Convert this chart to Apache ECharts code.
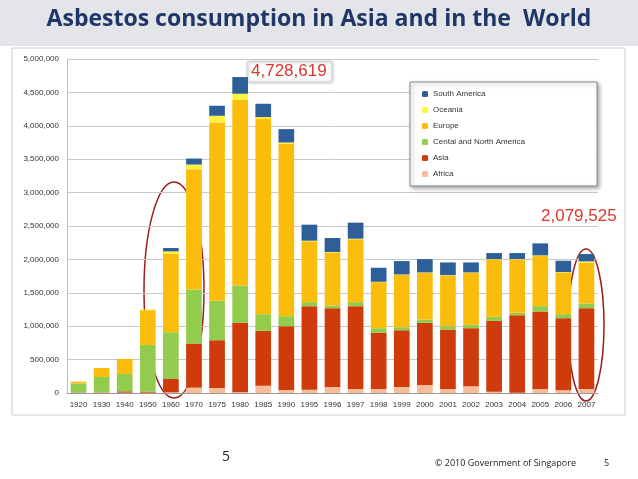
<!DOCTYPE html>
<html>
<head>
<meta charset="UTF-8">
<script src="https://cdn.jsdelivr.net/npm/echarts@6/dist/echarts.min.js"></script>
<style>
  * { margin: 0; padding: 0; }
  html, body { width: 638px; height: 479px; background: #fff; }
  #chart { width: 638px; height: 479px; }
</style>
</head>
<body>
<div id="chart"></div>
<script>
  var years = ['1920','1930','1940','1950','1960','1970','1975','1980','1985','1990','1995','1996','1997','1998','1999','2000','2001','2002','2003','2004','2005','2006','2007'];
  var africa   = [5000,5000,5000,5000,10000,80000,75000,10000,110000,45000,50000,90000,60000,60000,90000,120000,60000,100000,20000,5000,60000,40000,60000];
  var asia     = [5000,5000,20000,15000,200000,660000,715000,1040000,820000,955000,1250000,1180000,1240000,840000,850000,930000,890000,870000,1060000,1160000,1160000,1080000,1210000];
  var northAm  = [130000,230000,260000,700000,700000,810000,590000,560000,250000,150000,60000,40000,60000,70000,45000,50000,50000,50000,60000,35000,80000,60000,70000];
  var europe   = [30000,135000,225000,520000,1170000,1800000,2670000,2780000,2920000,2580000,910000,790000,940000,690000,785000,700000,760000,780000,860000,800000,750000,620000,610000];
  var oceania  = [0,0,0,10000,40000,70000,100000,90000,30000,20000,10000,10000,10000,5000,5000,5000,5000,5000,5000,5000,10000,10000,20000];
  var southAm  = [0,0,0,0,50000,90000,150000,250000,200000,200000,240000,210000,240000,210000,200000,200000,190000,150000,90000,90000,180000,170000,110000];

  var chart = echarts.init(document.getElementById('chart'));

  function bar(name, data, color) {
    return { name: name, type: 'bar', stack: 'total', data: data, barWidth: '68%',
      itemStyle: { color: color }, emphasis: { disabled: true } };
  }

  var option = {
    backgroundColor: '#fff',
    animation: false,
    grid: { left: 67, right: 40, top: 59, bottom: 86 },
    xAxis: {
      type: 'category', data: years,
      axisTick: { show: false },
      axisLine: { lineStyle: { color: '#999' } },
      axisLabel: { fontSize: 8, color: '#333', interval: 0, fontFamily: 'Liberation Sans' }
    },
    yAxis: {
      type: 'value', min: 0, max: 5000000, interval: 500000,
      axisLine: { show: true, lineStyle: { color: '#bbb' } },
      splitLine: { lineStyle: { color: '#c8c8c8' } },
      axisLabel: { fontSize: 8, color: '#333', fontFamily: 'Liberation Sans',
        formatter: function (v) { return v.toLocaleString('en-US'); } }
    },
    legend: {
      orient: 'vertical', left: 410, top: 82, width: 188,
      data: ['South America','Oceania','Europe','Cental and North America','Asia','Africa'],
      itemWidth: 6, itemHeight: 6, itemGap: 8, padding: [8, 72, 8, 12],
      backgroundColor: '#fff', borderColor: '#888', borderWidth: 1,
      shadowColor: 'rgba(0,0,0,0.35)', shadowBlur: 4, shadowOffsetX: 2, shadowOffsetY: 2,
      textStyle: { fontSize: 8, color: '#333', fontFamily: 'Liberation Sans' }
    },
    series: [
      bar('Africa', africa, '#f7bc98'),
      bar('Asia', asia, '#cf3b0b'),
      bar('Cental and North America', northAm, '#91cc4c'),
      bar('Europe', europe, '#fbbd0b'),
      bar('Oceania', oceania, '#fff23c'),
      bar('South America', southAm, '#2f5f98')
    ],
    graphic: [
      { type: 'rect', z: -1, shape: { x: 0, y: 0, width: 638, height: 46 }, style: { fill: '#e3e5e8' } },
      { type: 'text', left: 'center', top: 8, style: { text: 'Asbestos consumption in Asia and in the  World',
        font: 'bold 23px "Open Sans"', fill: '#1f3668' } },
      { type: 'rect', z: -1, shape: { x: 12, y: 48, width: 613, height: 367 },
        style: { fill: 'none', stroke: '#ccc', lineWidth: 1 } },
      { type: 'ellipse', shape: { cx: 174, cy: 290, rx: 30, ry: 108 },
        style: { fill: 'none', stroke: '#9b1c1c', lineWidth: 1.5 } },
      { type: 'ellipse', shape: { cx: 586, cy: 325, rx: 18, ry: 76 },
        style: { fill: 'none', stroke: '#9b1c1c', lineWidth: 1.5 } },
      { type: 'rect', shape: { x: 248, y: 62, width: 84, height: 20 },
        style: { fill: '#fff', stroke: '#ddd', shadowColor: 'rgba(0,0,0,0.3)', shadowBlur: 3 } },
      { type: 'text', left: 251, top: 63, style: { text: '4,728,619', font: '17px "Liberation Sans"', fill: '#e0352b' } },
      { type: 'text', left: 541, top: 208, style: { text: '2,079,525', font: '17px "Liberation Sans"', fill: '#e0352b' } },
      { type: 'text', left: 222, top: 450, style: { text: '5', font: '14px "Open Sans"', fill: '#222' } },
      { type: 'text', left: 435, top: 459, style: { text: '© 2010 Government of Singapore', font: '9px "Open Sans"', fill: '#222' } },
      { type: 'text', left: 604, top: 459, style: { text: '5', font: '9px "Open Sans"', fill: '#222' } }
    ]
  };
  chart.setOption(option);
</script>
</body>
</html>
